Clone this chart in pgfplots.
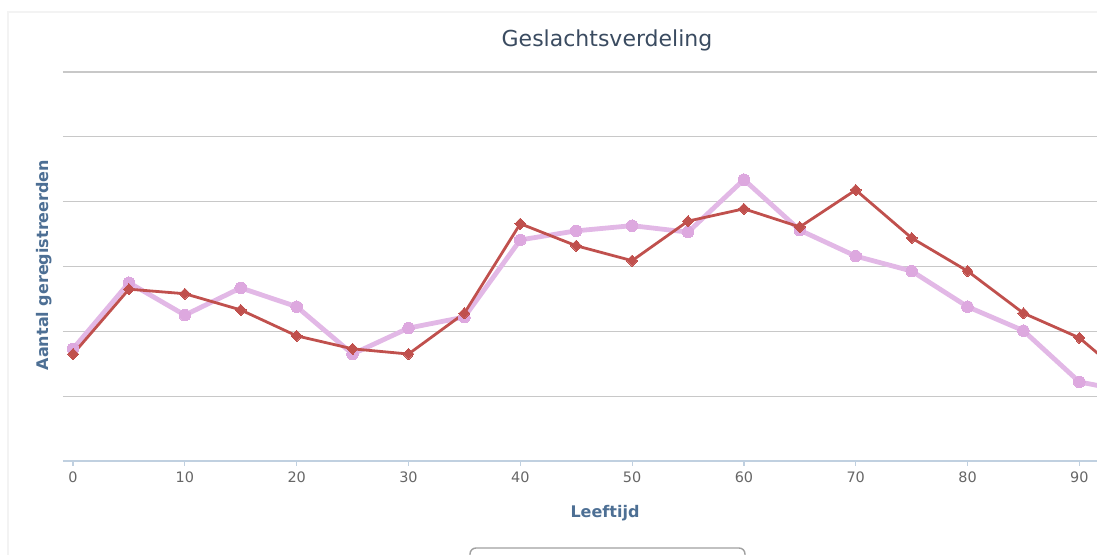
\documentclass[border=0pt]{standalone}
\usepackage{fontspec}
\setmainfont{DejaVu Sans}
\usepackage{pgfplots}
\pgfplotsset{compat=1.18}

\definecolor{titlecol}{HTML}{3A4B60}
\definecolor{axtitle}{HTML}{4D6F94}
\definecolor{ticklab}{HTML}{666666}
\definecolor{gridcol}{HTML}{C8C8C8}
\definecolor{axisline}{HTML}{C0D0E0}
\definecolor{pinkser}{HTML}{E2B8E6}
\definecolor{pinkmark}{HTML}{DDA8DF}
\definecolor{redser}{HTML}{C0504D}
\definecolor{legframe}{HTML}{A0A0A0}
\definecolor{frame}{HTML}{F3F3F3}

\begin{document}
\begin{tikzpicture}
% picture window: the chart is cut off at the right and bottom
\useasboundingbox (-31.5pt,-47pt) rectangle (517pt,230.5pt);
\clip (-31.5pt,-47pt) rectangle (517pt,230.5pt);

\draw[frame, line width=0.6pt] (-27.5pt,-60pt) -- (-27.5pt,224.5pt) -- (530pt,224.5pt);

\begin{axis}[
    at={(0pt,0pt)}, anchor=south west,
    scale only axis,
    width=547.3pt, height=194.5pt,
    xmin=-0.9, xmax=97,
    ymin=0, ymax=600,
    axis x line*=bottom, axis y line*=left,
    y axis line style={draw=none},
    x axis line style={draw=axisline, line width=0.8pt, -},
    xtick={0,10,...,90},
    ytick={0,100,...,600},
    yticklabels={},
    ymajorgrids,
    grid style={gridcol, line width=0.6pt},
    major y tick style={draw=none},
    major x tick style={draw=axisline, line width=0.6pt},
    major tick length=2.5pt,
    tick align=outside,
    xticklabel style={font=\fontsize{7.2}{8}\selectfont, text=ticklab, yshift=0.5pt},
    /pgf/number format/assume math mode=true,
  ]
  % vrouwen (licht roze)
  \addplot[pinkser, line width=2.4pt, mark=*, mark size=2.9pt,
           mark options={fill=pinkmark, draw=pinkmark, line width=0pt}]
    coordinates {
      (0,173) (5,275) (10,225) (15,267) (20,238) (25,165) (30,205)
      (35,222) (40,341) (45,355) (50,363) (55,353) (60,434) (65,356)
      (70,316) (75,293) (80,238) (85,201) (90,122) (95,105)
    };
  % mannen (rood)
  \addplot[redser, line width=1.4pt, mark=diamond*, mark size=2.8pt,
           mark options={fill=redser, draw=redser, line width=0pt, xscale=1.3}]
    coordinates {
      (0,165) (5,265) (10,258) (15,233) (20,193) (25,173) (30,165)
      (35,228) (40,366) (45,332) (50,309) (55,370) (60,389) (65,361)
      (70,418) (75,344) (80,293) (85,228) (90,190) (95,117)
    };
\end{axis}

\node[text=titlecol, font=\fontsize{11}{13}\selectfont] at (272pt,210.5pt) {Geslachtsverdeling};
\node[text=axtitle, font=\fontsize{8}{10}\selectfont\bfseries] at (271pt,-26pt) {Leeftijd};
\node[text=axtitle, font=\fontsize{8}{10}\selectfont\bfseries, rotate=90] at (-9.5pt,98pt) {Aantal geregistreerden};

% legend frame, cut off at the bottom
\draw[legframe, line width=0.7pt, rounded corners=3pt]
  (203.5pt,-70pt) -- (203.5pt,-43.5pt) -- (341pt,-43.5pt) -- (341pt,-70pt);
\end{tikzpicture}
\end{document}
